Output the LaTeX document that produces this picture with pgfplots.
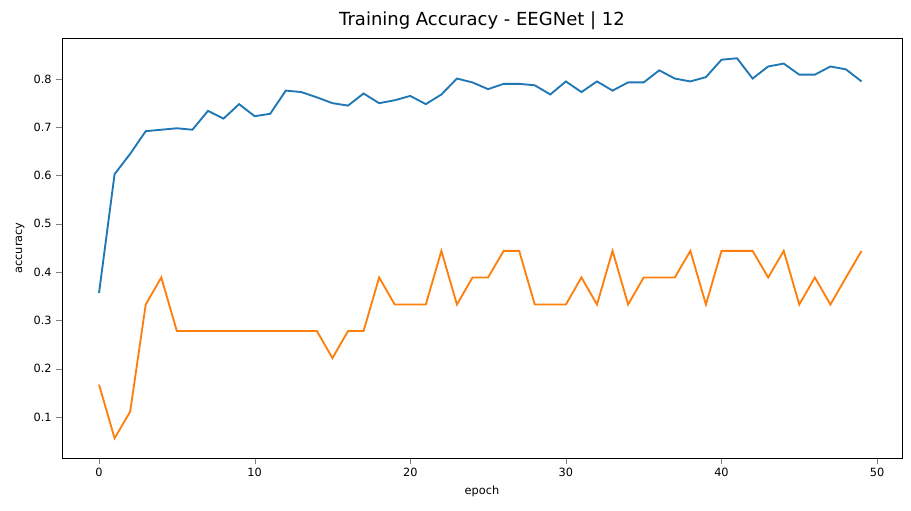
\documentclass[border=0pt]{standalone}
\usepackage{pgfplots}
\pgfplotsset{compat=1.18}
\usepackage{fontspec}
\setmainfont{DejaVu Sans}
\begin{document}
\begin{tikzpicture}
\begin{axis}[name=ax, scale only axis, width=630pt, height=315pt,
 xmin=-2.38, xmax=51.6, ymin=0.0151, ymax=0.885,
 xtick={0,10,20,30,40,50}, ytick={0.1,0.2,0.3,0.4,0.5,0.6,0.7,0.8},
 yticklabel style={/pgf/number format/fixed,/pgf/number format/precision=1},
 /pgf/number format/assume math mode=true,
 ticklabel style={font=\fontsize{8.5}{10}\selectfont},
 label style={font=\fontsize{8.5}{10}\selectfont},
 xlabel={epoch}, ylabel={accuracy},
 tick align=outside, tick pos=left,
 title={Training Accuracy - EEGNet | 12}, title style={font=\fontsize{13.5}{15}\selectfont, yshift=-3pt},
]
\addplot[color={rgb,255:red,31;green,119;blue,180}, line width=1.4pt] coordinates {
(0,0.357)(1,0.603)(2,0.645)(3,0.692)(4,0.695)(5,0.698)(6,0.695)(7,0.734)(8,0.718)(9,0.748)
(10,0.723)(11,0.728)(12,0.776)(13,0.773)(14,0.762)(15,0.750)(16,0.745)(17,0.770)(18,0.750)(19,0.756)
(20,0.765)(21,0.748)(22,0.768)(23,0.801)(24,0.793)(25,0.779)(26,0.790)(27,0.790)(28,0.787)(29,0.768)
(30,0.795)(31,0.773)(32,0.795)(33,0.776)(34,0.793)(35,0.793)(36,0.818)(37,0.801)(38,0.795)(39,0.804)
(40,0.840)(41,0.843)(42,0.801)(43,0.826)(44,0.832)(45,0.809)(46,0.809)(47,0.826)(48,0.820)(49,0.795)};
\addplot[color={rgb,255:red,255;green,127;blue,14}, line width=1.4pt] coordinates {
(0,0.167)(1,0.056)(2,0.111)(3,0.333)(4,0.389)(5,0.278)(6,0.278)(7,0.278)(8,0.278)(9,0.278)
(10,0.278)(11,0.278)(12,0.278)(13,0.278)(14,0.278)(15,0.222)(16,0.278)(17,0.278)(18,0.389)(19,0.333)
(20,0.333)(21,0.333)(22,0.444)(23,0.333)(24,0.389)(25,0.389)(26,0.444)(27,0.444)(28,0.333)(29,0.333)
(30,0.333)(31,0.389)(32,0.333)(33,0.444)(34,0.333)(35,0.389)(36,0.389)(37,0.389)(38,0.444)(39,0.333)
(40,0.444)(41,0.444)(42,0.444)(43,0.389)(44,0.444)(45,0.333)(46,0.389)(47,0.333)(48,0.389)(49,0.444)};
\end{axis}
\path ([shift={(-46.5pt,-39.75pt)}]ax.south west) rectangle ([shift={(6.75pt,28.5pt)}]ax.north east);
\end{tikzpicture}
\end{document}
